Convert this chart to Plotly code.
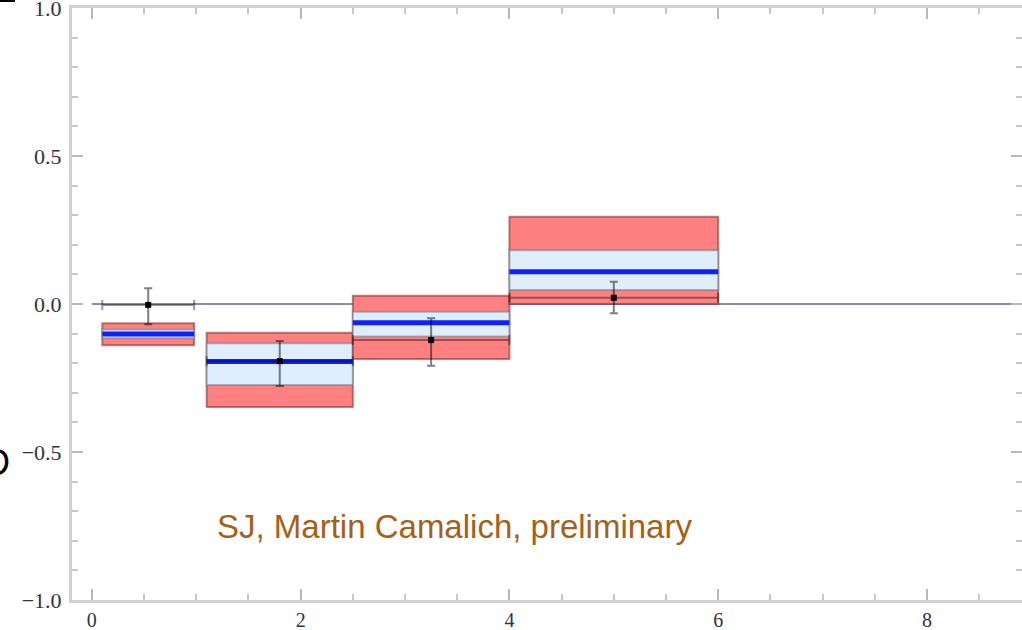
import plotly.graph_objects as go

# ---- data ----
bin_lo = [0.1, 1.1, 2.5, 4.0]
bin_hi = [0.98, 2.5, 4.0, 6.0]
theory_central = [-0.101, -0.194, -0.063, 0.109]
theory_inner_lo = [-0.116, -0.274, -0.110, 0.047]
theory_inner_hi = [-0.086, -0.133, -0.026, 0.182]
theory_outer_lo = [-0.139, -0.348, -0.186, 0.000]
theory_outer_hi = [-0.065, -0.097, 0.028, 0.295]

data_x = [0.54, 1.80, 3.25, 5.00]
data_y = [-0.003, -0.193, -0.122, 0.021]
data_err_plus = [0.056, 0.068, 0.074, 0.054]
data_err_minus = [0.065, 0.084, 0.087, 0.052]

x_ticks = [0, 2, 4, 6, 8]
y_ticks = [-1.0, -0.5, 0.0, 0.5, 1.0]
credit = "SJ, Martin Camalich, preliminary"

fig = go.Figure()

shapes = []
# zero line
shapes.append(dict(type="line", xref="x", yref="y", x0=0, x1=9.2, y0=0, y1=0,
                   line=dict(color="rgb(140,140,172)", width=2), layer="below"))
for i in range(len(bin_lo)):
    shapes.append(dict(type="rect", xref="x", yref="y",
                       x0=bin_lo[i], x1=bin_hi[i],
                       y0=theory_outer_lo[i], y1=theory_outer_hi[i],
                       fillcolor="rgb(255,128,128)",
                       line=dict(color="rgba(120,40,40,0.55)", width=2),
                       layer="below"))
    shapes.append(dict(type="rect", xref="x", yref="y",
                       x0=bin_lo[i], x1=bin_hi[i],
                       y0=theory_inner_lo[i], y1=theory_inner_hi[i],
                       fillcolor="rgb(222,238,253)",
                       line=dict(color="rgba(110,120,140,0.55)", width=2),
                       layer="below"))
    shapes.append(dict(type="line", xref="x", yref="y",
                       x0=bin_lo[i], x1=bin_hi[i],
                       y0=theory_central[i], y1=theory_central[i],
                       line=dict(color="rgb(16,32,255)", width=5),
                       layer="below"))
# small cut-off mark at top-left
shapes.append(dict(type="line", xref="paper", yref="paper",
                   x0=-0.0758, x1=-0.060, y0=1.0118, y1=1.0118,
                   line=dict(color="black", width=2)))

fig.add_trace(go.Scatter(
    x=data_x, y=data_y, mode="markers",
    marker=dict(symbol="square", size=6, color="black"),
    error_y=dict(type="data", symmetric=False, array=data_err_plus,
                 arrayminus=data_err_minus, color="rgba(0,0,0,0.5)",
                 thickness=2, width=4),
    error_x=dict(type="data", symmetric=False,
                 array=[h - x for h, x in zip(bin_hi, data_x)],
                 arrayminus=[x - l for x, l in zip(data_x, bin_lo)],
                 color="rgba(0,0,0,0.4)", thickness=2, width=5),
    showlegend=False, hoverinfo="skip"))

fig.add_annotation(x=3.47, y=-0.753, xref="x", yref="y", text=credit,
                   showarrow=False,
                   font=dict(family="Liberation Sans", size=33, color="rgb(166,96,22)"))
fig.add_annotation(x=0, y=-0.537, xref="paper", yref="y", text="D",
                   showarrow=False, xanchor="right", xshift=-60,
                   font=dict(family="Liberation Sans", size=36, color="black"))

axis_common = dict(showline=True, linecolor="rgb(208,208,208)", linewidth=3,
                   mirror="allticks", ticks="inside", tickcolor="rgb(185,185,185)",
                   tickwidth=2, ticklen=11, showgrid=False, zeroline=False,
                   automargin=False, ticklabeloverflow="allow")

fig.update_layout(
    width=1022, height=630,
    margin=dict(l=72, r=0, t=8, b=30),
    paper_bgcolor="white", plot_bgcolor="white",
    shapes=shapes,
    xaxis=dict(range=[-0.19, 8.91], tickvals=x_ticks,
               ticktext=[str(v) for v in x_ticks],
               minor=dict(dtick=0.5, tick0=0, ticks="inside", ticklen=6,
                          tickcolor="rgb(200,200,200)", tickwidth=2),
               tickfont=dict(family="Liberation Serif", size=20, color="rgb(50,50,70)"),
               ticklabelstandoff=0, **axis_common),
    yaxis=dict(range=[-1.0, 1.0], tickvals=y_ticks,
               ticktext=[f"{v:.1f}".replace("-", "\u2212") for v in y_ticks],
               minor=dict(dtick=0.1, tick0=0, ticks="inside", ticklen=6,
                          tickcolor="rgb(200,200,200)", tickwidth=2),
               tickfont=dict(family="Liberation Serif", size=22, color="rgb(50,50,70)"),
               ticklabelstandoff=3, **axis_common),
)

fig.write_html("out.html", config={"displayModeBar": False},
               post_script="document.body.style.margin='0';document.body.style.overflow='hidden';")
